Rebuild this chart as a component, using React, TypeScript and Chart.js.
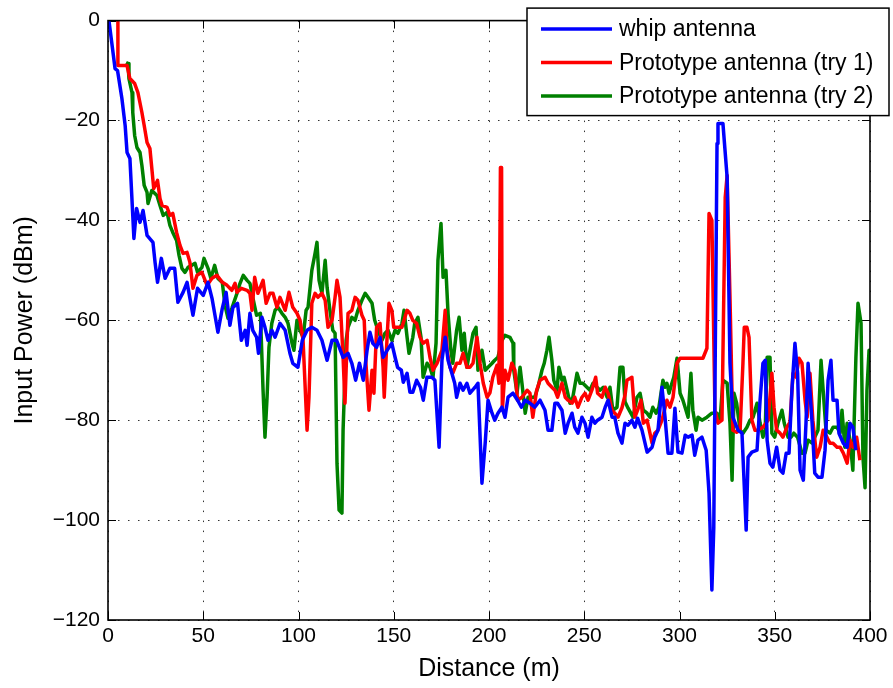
import React, { useEffect, useRef } from 'react';
import { Chart, registerables } from 'chart.js';

Chart.register(...registerables);

// ---------- data ----------
const seriesLabels = ['whip antenna', 'Prototype antenna (try 1)', 'Prototype antenna (try 2)'];
const seriesColors = ['#0000ff', '#ff0000', '#008000'];
const xTickValues = [0, 50, 100, 150, 200, 250, 300, 350, 400];
const yTickValues = [-120, -100, -80, -60, -40, -20, 0];
const xTitle = 'Distance (m)';
const yTitle = 'Input Power (dBm)';

// [distance (m), input power (dBm)]
const whipAntenna: number[][] = [
  [0.5, 0], [3.7, -9.6], [5, -10], [7.3, -15.6], [9, -21], [10, -26.4], [11.5, -27.6], [13, -39], [13.6, -43.6],
  [15, -37.6], [16.8, -40.4], [18.4, -38], [20.5, -43], [23.6, -44.4], [24.7, -48.4], [26, -52.4], [28, -47.6],
  [30, -51.6], [32.5, -49.6], [35, -49.6], [36.7, -56.4], [39.4, -54.4], [41.5, -52.4], [43, -55.6], [44.6, -59],
  [47, -53.6], [50, -55], [52.5, -52.4], [54.6, -55.6], [57.7, -62.4], [60, -57.6], [62, -54.4], [64, -61],
  [65.6, -57.4], [68, -56.6], [70, -64], [72, -62], [73, -65], [74.5, -58.6], [76, -62], [78, -63.4], [79, -66.6],
  [80.8, -59.4], [82.4, -61.4], [84, -64], [86, -62], [87.7, -63.4], [90.3, -60.6], [93, -62], [95.5, -66.6],
  [97, -68.6], [99.7, -69.4], [102, -64], [104.5, -62], [107, -61.4], [109.7, -62], [112.3, -64], [115, -68],
  [117.6, -64], [120, -64], [123.4, -67.4], [126, -66.6], [128, -68.6], [130, -72], [132, -68.6], [134, -72],
  [136, -66], [137.5, -62.4], [139, -64.6], [141, -65.4], [142.8, -63.4], [144.4, -67.4], [146.5, -66], [149, -64.6],
  [150.7, -67.4], [152, -69.4], [154, -70], [155, -72.4], [157, -70.6], [158.5, -74.4], [160, -74.4], [162, -72],
  [164, -73.4], [165.5, -76], [167.4, -71.4], [170, -71.4], [171.6, -72], [173.8, -85.4], [175.3, -68], [177, -63.4],
  [178.5, -68], [180.5, -70.6], [182, -72.6], [183, -75.4], [184.8, -72.6], [186.4, -74], [188.4, -72.6], [190, -74.6],
  [192.7, -73.4], [194.2, -72.6], [196.3, -92.6], [198, -84.6], [199.5, -76], [201.6, -78.6], [203, -80], [204.7, -78.6],
  [206.8, -77.4], [208.4, -79.4], [210, -75.4], [212.6, -74.6], [215, -76], [217, -77.4], [219, -76], [221.5, -76.6],
  [224, -77.4], [226.8, -76], [229.4, -78], [231, -82], [233, -82], [234.6, -76.6], [236, -76.6], [238.3, -78],
  [240, -82.6], [241.5, -80.6], [243.6, -78.6], [245, -81.4], [246.7, -82.6], [248.8, -79.4], [250.4, -80.6],
  [252, -83.4], [254, -79.4], [255.6, -80.6], [257, -80], [259.3, -79.4], [261, -77.4], [262.5, -76], [264.6, -79.4],
  [266, -79.4], [267.7, -82.6], [269.8, -84.6], [271.4, -80.6], [273, -81], [275, -80], [276.6, -81.4], [278, -79.6],
  [280.3, -82], [283, -86.4], [285.6, -85.4], [287, -83.4], [288.7, -82], [290.8, -73.4], [292.4, -79.4], [294, -86.6],
  [296, -86.6], [297.6, -77.6], [299.2, -86.4], [301.3, -86.6], [303, -83], [304.5, -83.4], [306.6, -83], [308, -87],
  [309.7, -84], [311.8, -83.4], [314, -86], [315.5, -94.6], [317, -114], [318, -101.4], [319.7, -24.6], [320.2, -20.6],
  [322.8, -20.6], [325, -31.4], [326.5, -68.6], [328, -79.4], [330.7, -82], [332.8, -82.6], [335, -102], [336, -87.4],
  [338, -86.4], [340.7, -86], [342.3, -76], [343.8, -68.6], [345, -68], [346, -84], [347.5, -88.6], [349, -89.4],
  [351, -85.4], [352.8, -90], [354.3, -90.6], [356, -86.6], [357.5, -86.6], [359, -74], [360.6, -64.6], [362, -70.6],
  [363.3, -90], [365, -92], [366.4, -80.6], [367.5, -68.6], [369.6, -80.6], [371, -90.6], [372.7, -91.4], [374.8, -91.4],
  [376.4, -86], [378, -72], [379.5, -68], [380.6, -76], [382.7, -76], [383.7, -82.6], [386, -84.6], [388, -85.4],
  [389.5, -80.6], [391, -81.4], [392.6, -86],
];

const prototypeTry1: number[][] = [
  [5.2, 0], [5.2, -9], [10, -9], [11.5, -11.6], [14, -12.6], [15.7, -14.4], [17.8, -18.4], [19, -21], [20.5, -24.4],
  [22, -25.6], [23, -29.6], [24, -33.6], [26, -32], [27.3, -35.6], [28.4, -37], [31, -37.4], [32.5, -39], [34, -38.6],
  [36, -42.4], [37.8, -45], [39.4, -46.6], [41.5, -46.4], [43, -48.4], [44.6, -53.6], [46.7, -51], [49.3, -50.4],
  [52, -53], [54.6, -51.6], [57.2, -51], [60, -52.4], [62.5, -53], [65, -54], [66.7, -52.6], [67.7, -54.4], [70, -53.6],
  [73, -54], [74.5, -54.6], [75.6, -58], [77, -51.4], [78.7, -54.6], [81.4, -52], [83, -56.6], [85, -54.6], [86.6, -54.6],
  [88.7, -57.4], [90.3, -55.4], [93, -58], [95, -54.4], [97, -57.4], [99.2, -58.6], [100.8, -60], [102.4, -64],
  [104.5, -82], [105.5, -75.4], [107, -56.6], [108.7, -54.6], [110.2, -55.4], [112.3, -54.6], [114, -56], [115.5, -61.4],
  [117.6, -60], [119.2, -55.4], [120.2, -52], [121.8, -55.4], [123.4, -67.4], [124.4, -76.6], [126, -58.6], [128, -58],
  [129.7, -55.4], [131.2, -56], [133.3, -59], [134.5, -60], [135.4, -68.6], [137, -78], [138.6, -70], [139.6, -74.6],
  [141, -61.4], [142.8, -60.6], [144.4, -69.4], [145, -75.4], [146.5, -63.4], [147.5, -56.6], [149, -58], [150, -61.4],
  [152.2, -61.4], [154.3, -61.4], [157, -58], [158.5, -58.6], [160, -60], [162, -60.6], [163.8, -63.4], [165.4, -64.6],
  [167.5, -64], [169, -67.4], [170.6, -70], [172.7, -68.6], [175.3, -66], [177, -58], [178, -66], [179.5, -69.4],
  [181, -70.6], [183, -68.6], [184.8, -68.6], [186.4, -66.6], [188.4, -69.4], [190, -69.4], [191.6, -68.6], [193.7, -63.4],
  [195.3, -68.6], [197, -72.6], [199, -75.4], [200.5, -74.5], [202, -71.4], [204.2, -69], [205.2, -72.6], [206, -29.4],
  [206.6, -29.4], [207, -78], [208.4, -70], [210, -72], [212, -68.6], [213.6, -70], [215, -76], [217.3, -75.4], [220, -74],
  [221.5, -74.6], [223, -79.4], [225, -74], [226.8, -72], [229.4, -71.4], [231, -72.6], [233, -73.4], [234.6, -74],
  [236, -75.4], [238.3, -72.6], [240, -75.4], [241.5, -76], [243.6, -76.6], [245, -75.4], [246.7, -77.4], [248.8, -75.4],
  [250.4, -74.6], [252, -76], [254, -74], [256, -71.4], [257, -74.6], [259.3, -75.4], [261, -73.4], [262.5, -74.6],
  [264.6, -78], [266, -78.6], [267.7, -79.4], [269.8, -77.5], [271.4, -75], [272.4, -72], [275, -71.4], [276.6, -79.4],
  [278, -78], [279.8, -76], [281, -80.6], [283, -80], [285.6, -84.6], [287, -82.6], [288.7, -82], [290.8, -80],
  [293.4, -76], [295, -77.4], [296.6, -75.4], [298.7, -68.6], [300.3, -67.6], [312.3, -67.6], [314.4, -65.6],
  [315.5, -38.6], [317, -40], [318.6, -78], [320.2, -80.6], [322.3, -80], [324, -35.4], [325, -31], [326.5, -55.4],
  [328, -82], [330, -82.4], [331.8, -82], [333.3, -68.6], [334, -61.4], [335.4, -61.4], [336.5, -63.4], [338, -80],
  [339.6, -82], [341, -82], [343.8, -81.4], [346.5, -80], [348.5, -70.6], [349.6, -77.4], [351, -82], [352.8, -82.6],
  [354.3, -83.4], [356.4, -81.4], [358, -80.4], [359.6, -70.6], [361.2, -71.4], [362.7, -67.6], [364.3, -68.6],
  [365.9, -76], [367, -79.4], [368.5, -70.6], [370, -80], [372, -87.4], [373.8, -85.4], [375.4, -82], [377.4, -83.4],
  [379, -84.6], [380.6, -84.6], [382.7, -85.4], [384.3, -85.4], [386, -86.6], [388, -88.6], [389.5, -84], [391, -85.4],
  [393, -83.4], [394.7, -88],
];

const prototypeTry2: number[][] = [
  [9.5, -8.4], [10.5, -8.6], [11, -11.6], [12.6, -14.4], [13, -18.4], [14, -23], [15.2, -25.4], [16.8, -26.4],
  [17.8, -29], [19, -33], [20.5, -34.4], [21, -36.6], [23, -34], [25.7, -35], [27.3, -37], [29, -39], [31, -38.4],
  [32.5, -41], [34, -42.4], [36, -44], [37.3, -47], [38.8, -49.6], [40.4, -50.4], [42, -49.4], [44, -49], [45.7, -48.6],
  [47, -50.4], [49.3, -49.4], [50.4, -47.6], [52.5, -49.6], [54, -51.6], [56, -49], [57.7, -51.6], [60, -52.4],
  [61.4, -57], [63, -59.6], [65, -57.6], [67.7, -54.6], [69.3, -52.6], [71, -51], [73, -52], [74.5, -52.6], [76, -55.4],
  [78, -59], [80, -58.6], [81.4, -74], [82.4, -83.4], [83.5, -75.4], [84.5, -65.4], [86, -60.6], [87.7, -58],
  [89.2, -57.4], [91.3, -58.6], [93, -59.4], [94.5, -60.6], [96.6, -64.6], [97.6, -66], [99.2, -60], [100.8, -62],
  [102.4, -63.4], [104, -58], [105, -57.4], [107, -50], [108.7, -46.6], [109.7, -44.4], [110.8, -52], [112.3, -54.6],
  [114, -48], [115, -53.4], [116.5, -58], [118, -62], [119.2, -62.6], [120.2, -88.6], [121.3, -98], [122.8, -98.6],
  [123.4, -82], [125, -64], [126, -61.4], [128, -59.4], [129.7, -60], [131.2, -58], [133.3, -56], [135, -54.6],
  [136.5, -55.4], [138.6, -56.6], [140, -60], [141.7, -62], [143.8, -64], [145.4, -62.6], [147, -62], [149, -64],
  [150.7, -62], [152.2, -62.6], [154.3, -60.6], [155.4, -58], [157, -63.4], [158, -66.6], [160, -63.4], [161, -60.6],
  [162.7, -59.4], [164.3, -63.4], [165.4, -71.4], [167.5, -68.6], [169, -69.4], [170.6, -71.4], [172.2, -64.6],
  [173.2, -48], [174.8, -40.6], [175.9, -51.4], [177.4, -50], [178.5, -58.6], [180, -66], [181, -68.6], [183, -62],
  [184.3, -59.4], [185.8, -66], [187, -62.6], [188.4, -69.4], [190, -66], [191.6, -62.6], [193.2, -61.4], [194.2, -70],
  [196.3, -66], [198, -70], [199.5, -69.4], [201.6, -68.6], [203, -68], [204.7, -67.4], [206.8, -64], [208.4, -63],
  [211, -63.4], [212.6, -64.6], [213, -70], [214.7, -74.6], [216.3, -69.4], [217.3, -72.6], [219, -78.6], [220.5, -75.4],
  [222.6, -75.4], [224, -75.4], [225.7, -73.4], [227.8, -70], [229, -68.6], [230.4, -66], [231.5, -63.4], [233, -68],
  [234, -72], [235.7, -74], [236.7, -69.4], [238.3, -72], [239.4, -71.4], [241, -74], [242.5, -76.6], [244, -75.4],
  [246.2, -70.6], [247.8, -72.6], [249.3, -72.6], [251.4, -73.4], [253, -74], [254.6, -72.6], [256.7, -73.4],
  [258.3, -74], [260, -73.4], [262, -75.4], [263.5, -73.4], [265, -78], [267.2, -77.4], [268.8, -69.4], [270.3, -69.4],
  [271.4, -76.3], [273, -77.6], [275.6, -79.4], [277.7, -75.4], [279.3, -74.6], [281, -78], [283, -78.6], [284.5, -79.4],
  [286, -77.4], [287.7, -78.6], [289.2, -77.4], [291.3, -72], [292.4, -73.4], [293.4, -72.6], [294.5, -74.6], [296, -72.6],
  [297, -71.4], [298.7, -67.6], [300.3, -74.6], [301.8, -76], [303.4, -78], [304.5, -79.4], [306, -70.6], [307, -78],
  [308.7, -82], [309.7, -79.4], [311.8, -80], [314.4, -79.4], [317, -78.6], [319.7, -78.6], [321.3, -80], [322.8, -72],
  [325, -72.6], [326.5, -80.6], [327.6, -92], [328.6, -74.6], [330, -76.6], [331.8, -82], [333.3, -82.6], [335.4, -81.4],
  [337, -80], [338.6, -79.4], [340.7, -76.6], [342.3, -80.6], [343.8, -83.4], [345, -82], [346, -67.4], [347.5, -67.4],
  [348.5, -82.6], [350, -83.4], [351.7, -80.6], [353.8, -78], [355, -80.6], [357, -83.4], [358.5, -83.4], [360, -82.6],
  [362, -83.4], [364.3, -86.6], [365.9, -86.6], [367.5, -84], [369.6, -84.6], [371, -83.4], [372.7, -82], [374.3, -68],
  [375.4, -74], [376.9, -82], [379, -82.6], [380.6, -81.4], [382.7, -81.4], [384.3, -82.6], [385.3, -78], [386.8, -85.4],
  [388, -80.6], [389.5, -84], [391, -90], [392.6, -67.4], [393.7, -56.6], [395.3, -60.6], [396.3, -87.4], [397.4, -93.5],
  [398.4, -74], [399.5, -66], [400, -66],
];

const seriesData = [whipAntenna, prototypeTry1, prototypeTry2];

// ---------- styling ----------
const FONT = '"Liberation Sans", Arial, Helvetica, sans-serif';

const frameAndLegend = {
  id: 'frameAndLegend',
  beforeDatasetsDraw(chart: any) {
    const { ctx, chartArea: a, scales } = chart;
    ctx.save();
    ctx.strokeStyle = '#000';
    ctx.lineWidth = 1;
    const tl = 8;
    ctx.beginPath();
    for (const v of yTickValues) {
      const y = Math.round(scales.y.getPixelForValue(v)) + 0.5;
      ctx.moveTo(a.left, y); ctx.lineTo(a.left + tl, y);
      ctx.moveTo(a.right, y); ctx.lineTo(a.right - tl, y);
    }
    for (const v of xTickValues) {
      const x = Math.round(scales.x.getPixelForValue(v)) + 0.5;
      ctx.moveTo(x, a.bottom); ctx.lineTo(x, a.bottom - tl);
      ctx.moveTo(x, a.top); ctx.lineTo(x, a.top + tl);
    }
    ctx.stroke();
    ctx.restore();
  },
  afterDatasetsDraw(chart: any) {
    const { ctx, chartArea: a } = chart;
    ctx.save();
    ctx.strokeStyle = '#000';
    ctx.lineWidth = 1.6;
    ctx.strokeRect(a.left, a.top, a.right - a.left, a.bottom - a.top);
    ctx.restore();
  },
  afterDraw(chart: any) {
    const { ctx, chartArea: a } = chart;
    const boxLeft = a.left + 419;
    const boxRight = a.right + 19;
    const boxTop = a.top - 12.5;
    const boxBottom = a.top + 95;
    ctx.save();
    ctx.fillStyle = '#fff';
    ctx.fillRect(boxLeft, boxTop, boxRight - boxLeft, boxBottom - boxTop);
    ctx.strokeStyle = '#000';
    ctx.lineWidth = 1.5;
    ctx.strokeRect(boxLeft, boxTop, boxRight - boxLeft, boxBottom - boxTop);
    ctx.font = `23px ${FONT}`;
    ctx.textBaseline = 'middle';
    ctx.textAlign = 'left';
    chart.data.datasets.forEach((ds: any, i: number) => {
      const y = boxTop + 21 + i * 33.5;
      ctx.strokeStyle = ds.borderColor;
      ctx.lineWidth = 3.5;
      ctx.beginPath();
      ctx.moveTo(boxLeft + 14, y);
      ctx.lineTo(boxLeft + 85, y);
      ctx.stroke();
      ctx.fillStyle = '#000';
      ctx.fillText(ds.label, boxLeft + 92, y + 1);
    });
    ctx.restore();
  },
};

export default function App() {
  const canvasRef = useRef<HTMLCanvasElement | null>(null);

  useEffect(() => {
    if (!canvasRef.current) return;
    const chart = new Chart(canvasRef.current, {
      type: 'line',
      data: {
        datasets: seriesData.map((pts, i) => ({
          label: seriesLabels[i],
          data: pts.map(([x, y]) => ({ x, y })),
          borderColor: seriesColors[i],
          backgroundColor: seriesColors[i],
          borderWidth: 3.5,
          pointRadius: 0,
          tension: 0,
          fill: false,
          borderJoinStyle: 'round' as const,
        })),
      },
      options: {
        responsive: false,
        animation: false,
        events: [],
        layout: { padding: { left: 0, top: 20, right: 23, bottom: 0 } },
        plugins: {
          legend: { display: false },
          tooltip: { enabled: false },
        },
        scales: {
          x: {
            type: 'linear',
            min: 0,
            max: 400,
            afterBuildTicks: (scale: any) => {
              scale.ticks = xTickValues.map((v) => ({ value: v }));
            },
            afterFit: (scale: any) => {
              scale.height = 68;
            },
            ticks: {
              color: '#000',
              font: { family: FONT, size: 21 },
              padding: 4,
              maxRotation: 0,
              callback: (v: any) => String(v),
            },
            grid: {
              color: '#333',
              lineWidth: 1,
              drawTicks: false,
            },
            border: { display: false, dash: [1.5, 8.5] },
            title: {
              display: true,
              text: xTitle,
              color: '#000',
              font: { family: FONT, size: 25 },
              padding: { top: 0, bottom: 4 },
            },
          },
          y: {
            type: 'linear',
            min: -120,
            max: 0,
            afterBuildTicks: (scale: any) => {
              scale.ticks = yTickValues.map((v) => ({ value: v }));
            },
            afterFit: (scale: any) => {
              scale.width = 108;
            },
            ticks: {
              color: '#000',
              font: { family: FONT, size: 21 },
              padding: 8,
              callback: (v: any) => String(v).replace('-', '\u2212'),
            },
            grid: {
              color: '#333',
              lineWidth: 1,
              drawTicks: false,
            },
            border: { display: false, dash: [1.5, 8.5] },
            title: {
              display: true,
              text: yTitle,
              color: '#000',
              font: { family: FONT, size: 25 },
              padding: { top: 10, bottom: 0 },
            },
          },
        },
      },
      plugins: [frameAndLegend],
    });
    return () => chart.destroy();
  }, []);

  return (
    <div style={{ position: 'fixed', left: 0, top: 0, width: 893, height: 688, background: '#fff' }}>
      <canvas ref={canvasRef} width={893} height={688} />
    </div>
  );
}
